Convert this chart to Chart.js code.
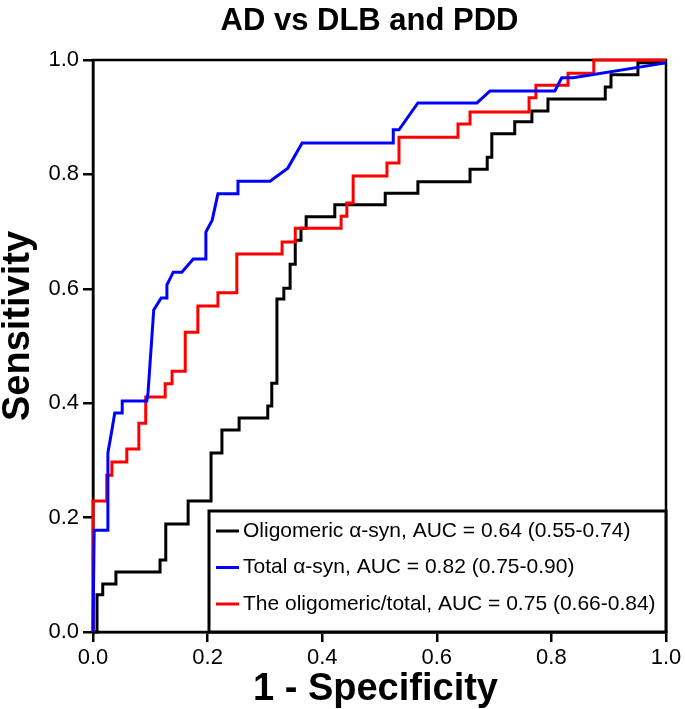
<!DOCTYPE html>
<html>
<head>
<meta charset="utf-8">
<script src="https://cdn.jsdelivr.net/npm/chart.js@4"></script>
<style>
  html, body { margin: 0; padding: 0; background: #fff; }
  #wrap { width: 685px; height: 709px; }
</style>
</head>
<body>
<div id="wrap"><canvas id="roc"></canvas></div>
<script>
// ── DATA ──
const ticks = [0, 0.2, 0.4, 0.6, 0.8, 1.0];

const oligoFpr = [0,0.007,0.007,0.017,0.017,0.040,0.040,0.117,0.117,0.127,0.127,0.166,0.166,0.206,0.206,0.225,0.225,0.255,0.255,0.305,0.305,0.312,0.312,0.321,0.321,0.333,0.333,0.344,0.344,0.353,0.353,0.363,0.363,0.372,0.372,0.422,0.422,0.510,0.510,0.567,0.567,0.658,0.658,0.688,0.688,0.696,0.696,0.736,0.736,0.766,0.766,0.794,0.794,0.894,0.894,0.904,0.904,0.951,0.951,1];
const oligoTpr = [0,0,0.065,0.065,0.084,0.084,0.105,0.105,0.126,0.126,0.189,0.189,0.229,0.229,0.313,0.313,0.353,0.353,0.374,0.374,0.395,0.395,0.435,0.435,0.582,0.582,0.601,0.601,0.643,0.643,0.685,0.685,0.706,0.706,0.726,0.726,0.747,0.747,0.767,0.767,0.787,0.787,0.809,0.809,0.830,0.830,0.871,0.871,0.892,0.892,0.911,0.911,0.932,0.932,0.953,0.953,0.974,0.974,0.995,0.995];

const totalFpr = [0,0.002,0.026,0.026,0.033,0.038,0.051,0.051,0.094,0.096,0.106,0.119,0.129,0.129,0.140,0.155,0.175,0.197,0.197,0.208,0.218,0.253,0.253,0.309,0.340,0.365,0.524,0.524,0.534,0.567,0.670,0.693,0.806,0.818,0.838,1];
const totalTpr = [0,0.178,0.178,0.313,0.353,0.383,0.383,0.404,0.404,0.418,0.563,0.584,0.584,0.607,0.629,0.629,0.652,0.652,0.699,0.720,0.766,0.766,0.788,0.788,0.811,0.855,0.855,0.878,0.878,0.925,0.925,0.946,0.946,0.969,0.969,0.995];

const ratioFpr = [0,0,0.024,0.024,0.033,0.033,0.059,0.059,0.080,0.080,0.092,0.092,0.126,0.126,0.138,0.138,0.161,0.161,0.183,0.183,0.218,0.218,0.251,0.251,0.330,0.330,0.353,0.353,0.433,0.433,0.443,0.443,0.454,0.454,0.513,0.513,0.534,0.534,0.637,0.637,0.658,0.658,0.761,0.761,0.773,0.773,0.829,0.829,0.874,0.874,1];
const ratioTpr = [0,0.229,0.229,0.274,0.274,0.297,0.297,0.320,0.320,0.365,0.365,0.411,0.411,0.434,0.434,0.456,0.456,0.524,0.524,0.570,0.570,0.593,0.593,0.661,0.661,0.682,0.682,0.706,0.706,0.727,0.727,0.750,0.750,0.797,0.797,0.820,0.820,0.865,0.865,0.888,0.888,0.909,0.909,0.934,0.934,0.956,0.956,0.977,0.977,1,1];

const titleText = 'AD vs DLB and PDD';
const xTitle = '1 - Specificity';
const yTitle = 'Sensitivity';
const labels = [
  'Oligomeric \u03b1-syn, AUC = 0.64 (0.55-0.74)',
  'Total \u03b1-syn, AUC = 0.82 (0.75-0.90)',
  'The oligomeric/total, AUC = 0.75 (0.66-0.84)'
];
const colors = ['#000000', '#0000ff', '#ff0000'];

const pts = (xs, ys) => xs.map((x, i) => ({ x, y: ys[i] }));
const FONT = "'Liberation Sans', Arial, Helvetica, sans-serif";

// ── PLUGINS ──
// titles are placed by hand: in the source they sit a little off-centre
const titles = {
  id: 'titles',
  afterDraw(chart) {
    const { ctx, chartArea: a } = chart;
    const cx = (a.left + a.right) / 2, cy = (a.top + a.bottom) / 2;
    ctx.save();
    ctx.fillStyle = '#000';
    ctx.textAlign = 'center';
    ctx.textBaseline = 'alphabetic';
    ctx.font = 'bold 31px ' + FONT;
    ctx.fillText(titleText, cx - 10, 30);
    ctx.font = 'bold 38px ' + FONT;
    ctx.fillText(xTitle, cx - 4, a.bottom + 68);
    ctx.translate(29, cy - 20);
    ctx.rotate(-Math.PI / 2);
    ctx.fillText(yTitle, 0, 0);
    ctx.restore();
  }
};

const frame = {
  id: 'frame',
  beforeDatasetsDraw(chart) {
    const { ctx, chartArea: a } = chart;
    ctx.save();
    ctx.strokeStyle = '#000';
    ctx.lineWidth = 2.5;
    ctx.strokeRect(a.left, a.top, a.right - a.left, a.bottom - a.top);
    ctx.restore();
  }
};

const boxLegend = {
  id: 'boxLegend',
  afterDatasetsDraw(chart) {
    const { ctx, chartArea: a } = chart;
    const l = a.left + 116, t = a.bottom - 121, r = a.right, b = a.bottom;
    ctx.save();
    ctx.fillStyle = '#fff';
    ctx.fillRect(l, t, r - l, b - t);
    ctx.strokeStyle = '#000';
    ctx.lineWidth = 3;
    ctx.strokeRect(l, t, r - l, b - t);
    ctx.font = '21px ' + FONT;
    ctx.textBaseline = 'middle';
    labels.forEach((txt, i) => {
      const y = t + 20 + i * 36.5;
      ctx.strokeStyle = colors[i];
      ctx.lineWidth = 3;
      ctx.beginPath();
      ctx.moveTo(l + 7, y);
      ctx.lineTo(l + 30, y);
      ctx.stroke();
      ctx.fillStyle = '#000';
      ctx.fillText(txt, l + 34, y);
    });
    ctx.restore();
  }
};

// ── CHART ──
const line = (i, xs, ys, order) => ({
  label: labels[i],
  data: pts(xs, ys),
  borderColor: colors[i],
  borderWidth: 3,
  pointRadius: 0,
  showLine: true,
  fill: false,
  tension: 0,
  clip: false,
  order
});

const axis = side => ({
  type: 'linear',
  min: 0,
  max: 1,
  afterBuildTicks: s => { s.ticks = ticks.map(v => ({ value: v })); },
  afterFit: s => { if (side === 'y') s.width = 93; else s.height = 77; },
  border: { display: true, color: '#000', width: 2.5 },
  grid: { drawOnChartArea: false, drawTicks: true, tickLength: 10, tickColor: '#000', lineWidth: 2.5 },
  ticks: { color: '#000', font: { family: FONT, size: 22 }, padding: side === 'y' ? 4 : 3, callback: v => v.toFixed(1) },
  title: { display: false }
});

new Chart(document.getElementById('roc'), {
  type: 'scatter',
  data: {
    datasets: [
      line(0, oligoFpr, oligoTpr, 2),
      line(1, totalFpr, totalTpr, 0),
      line(2, ratioFpr, ratioTpr, 1)
    ]
  },
  options: {
    responsive: true,
    maintainAspectRatio: false,
    animation: false,
    layout: { padding: { left: 0, right: 19, top: 60, bottom: 0 } },
    plugins: {
      legend: { display: false },
      tooltip: { enabled: false },
      title: { display: false }
    },
    scales: {
      x: axis('x'),
      y: axis('y')
    }
  },
  plugins: [frame, boxLegend, titles]
});
</script>
</body>
</html>
